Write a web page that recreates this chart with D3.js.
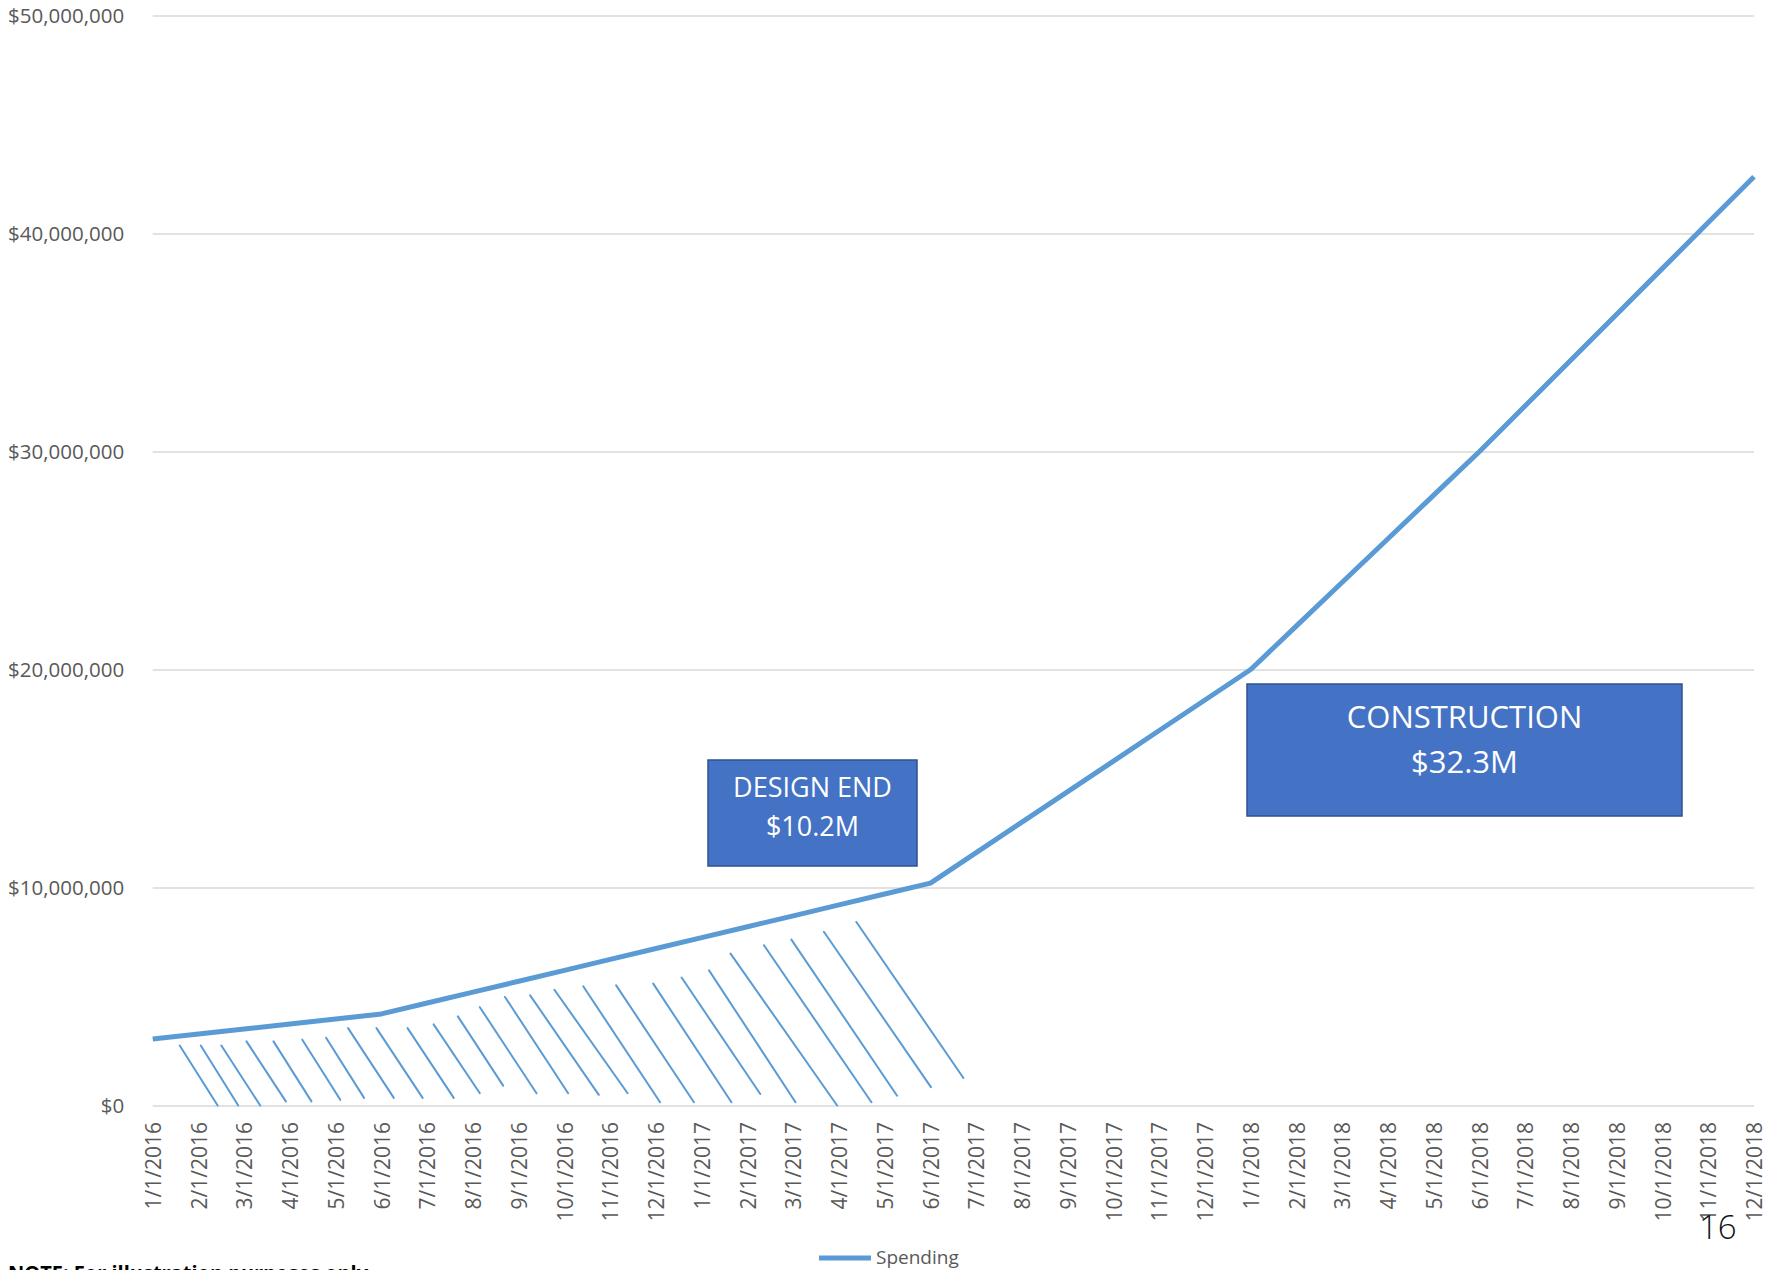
<!DOCTYPE html>
<html>
<head>
<meta charset="utf-8">
<script src="https://cdn.jsdelivr.net/npm/d3@7"></script>
<style>
  body { margin: 0; background: #fff; }
  svg { display: block; font-family: "Open Sans", "Noto Sans", sans-serif; }
</style>
</head>
<body>
<svg width="1771" height="1270"></svg>
<script>
// monthly cumulative spending ($ millions)
var months = [
  "1/1/2016", "2/1/2016", "3/1/2016", "4/1/2016", "5/1/2016", "6/1/2016",
  "7/1/2016", "8/1/2016", "9/1/2016", "10/1/2016", "11/1/2016", "12/1/2016",
  "1/1/2017", "2/1/2017", "3/1/2017", "4/1/2017", "5/1/2017", "6/1/2017",
  "7/1/2017", "8/1/2017", "9/1/2017", "10/1/2017", "11/1/2017", "12/1/2017",
  "1/1/2018", "2/1/2018", "3/1/2018", "4/1/2018", "5/1/2018", "6/1/2018",
  "7/1/2018", "8/1/2018", "9/1/2018", "10/1/2018", "11/1/2018", "12/1/2018"
];
var spending = [
  3.05, 3.28, 3.51, 3.74, 3.97, 4.2,
  4.7, 5.2, 5.7, 6.2, 6.7, 7.2,
  7.7, 8.2, 8.7, 9.2, 9.7, 10.2,
  11.6, 13.0, 14.4, 15.8, 17.2, 18.6,
  20.0, 22.0, 24.0, 26.0, 28.0, 30.0,
  32.1, 34.2, 36.3, 38.4, 40.5, 42.6
];
var yTicks = [0, 10, 20, 30, 40, 50];

// hand drawn hatch strokes under the design phase (month index, $M)
var hatchTopMonth = [0.59, 1.05, 1.50, 2.05, 2.64, 3.27, 3.79, 4.27, 4.89, 5.57, 6.14, 6.67, 7.15,
  7.70, 8.25, 8.78, 9.41, 10.13, 10.94, 11.56, 12.16, 12.63, 13.36, 13.96, 14.67, 15.38];
var hatchTopValue = [2.75, 2.75, 2.75, 2.94, 2.94, 3.02, 3.11, 3.55, 3.55, 3.55, 3.72, 4.09, 4.51,
  4.98, 5.05, 5.31, 5.47, 5.51, 5.59, 5.87, 6.20, 6.97, 7.35, 7.61, 7.97, 8.42];
var hatchEndMonth = [1.42, 1.87, 2.35, 2.91, 3.47, 4.10, 4.62, 5.27, 5.90, 6.58, 7.15, 7.66, 8.39,
  9.08, 9.75, 10.38, 11.09, 11.83, 12.65, 13.28, 14.05, 14.96, 15.71, 16.27, 17.01, 17.72];
var hatchEndValue = [0.0, 0.0, 0.0, 0.19, 0.19, 0.26, 0.35, 0.35, 0.35, 0.35, 0.56, 0.91, 0.56,
  0.56, 0.49, 0.56, 0.15, 0.15, 0.15, 0.53, 0.15, 0.0, 0.15, 0.45, 0.84, 1.26];

var boxTitles = ["DESIGN END", "CONSTRUCTION"];
var boxAmounts = ["$10.2M", "$32.3M"];
var seriesName = "Spending";
var noteText = "NOTE: For illustration purposes only";
var pageNumber = "16";

document.addEventListener("DOMContentLoaded", function () {

  var svg = d3.select("svg");
  var blue = "#5B9BD5";
  var grey = "#595959";
  var left = 152.7, right = 1754, top = 15.5, bottom = 1105.5;

  var xScale = d3.scaleLinear().domain([0, months.length - 1]).range([left, right]);
  var yScale = d3.scaleLinear().domain([0, 50]).range([bottom, top]);

  drawAxes();
  drawHatch();
  drawLine();
  drawBoxes();
  drawExtras();

  function drawAxes() {
    var yAxis = d3.axisLeft(yScale)
      .tickValues(yTicks)
      .tickSize(-(right - left))
      .tickPadding(28.5)
      .tickFormat(function (d) { return "$" + d3.format(",")(d * 1e6); });

    var yG = svg.append("g")
      .attr("transform", "translate(" + left + ",0)")
      .call(yAxis);
    yG.select("path.domain").remove();
    yG.selectAll(".tick line").style("stroke", "#D9D9D9").style("stroke-width", "1.5px");
    yG.selectAll(".tick text")
      .style("fill", grey)
      .style("font-size", "20.5px")
      .style("font-family", "Open Sans");

    var xAxis = d3.axisBottom(xScale)
      .tickValues(d3.range(months.length))
      .tickSize(0)
      .tickFormat(function (i) { return months[i]; });

    var xG = svg.append("g")
      .attr("transform", "translate(0," + bottom + ")")
      .call(xAxis);
    xG.select("path.domain").remove();
    xG.selectAll(".tick text")
      .attr("transform", "rotate(-90)")
      .attr("text-anchor", "end")
      .attr("x", -16.5)
      .attr("y", 0)
      .attr("dy", "0.36em")
      .style("fill", grey)
      .style("font-size", "21px")
      .style("font-family", "Open Sans");
  }

  function drawHatch() {
    svg.append("g")
      .selectAll("line")
      .data(hatchTopMonth).enter()
      .append("line")
      .attr("x1", function (d) { return xScale(d); })
      .attr("y1", function (d, i) { return yScale(hatchTopValue[i]); })
      .attr("x2", function (d, i) { return xScale(hatchEndMonth[i]); })
      .attr("y2", function (d, i) { return yScale(hatchEndValue[i]); })
      .style("stroke", blue)
      .style("stroke-width", "2px")
      .style("stroke-linecap", "round");
  }

  function drawLine() {
    var line = d3.line()
      .x(function (d, i) { return xScale(i); })
      .y(function (d) { return yScale(d); });

    svg.append("path")
      .datum(spending)
      .attr("d", line)
      .style("fill", "none")
      .style("stroke", blue)
      .style("stroke-width", "5px")
      .style("stroke-linejoin", "round");
  }

  function drawBoxes() {
    // annotation boxes, pixel layout
    var boxes = [
      { x: 708, y: 760, w: 209, h: 106, size: 27, l1: 797, l2: 836 },
      { x: 1247, y: 684, w: 435, h: 132, size: 31, l1: 728, l2: 773 }
    ];

    var g = svg.selectAll("g.box")
      .data(boxes).enter()
      .append("g")
      .attr("class", "box");

    g.append("rect")
      .attr("x", function (d) { return d.x; })
      .attr("y", function (d) { return d.y; })
      .attr("width", function (d) { return d.w; })
      .attr("height", function (d) { return d.h; })
      .style("fill", "#4472C4")
      .style("stroke", "#2F528F")
      .style("stroke-width", "1.5px");

    g.append("text")
      .attr("x", function (d) { return d.x + d.w / 2; })
      .attr("y", function (d) { return d.l1; })
      .attr("text-anchor", "middle")
      .style("fill", "#fff")
      .style("font-size", function (d) { return d.size + "px"; })
      .text(function (d, i) { return boxTitles[i]; });

    g.append("text")
      .attr("x", function (d) { return d.x + d.w / 2; })
      .attr("y", function (d) { return d.l2; })
      .attr("text-anchor", "middle")
      .style("fill", "#fff")
      .style("font-size", function (d) { return d.size + "px"; })
      .text(function (d, i) { return boxAmounts[i]; });
  }

  function drawExtras() {
    // legend
    svg.append("line")
      .attr("x1", 819).attr("x2", 871)
      .attr("y1", 1258).attr("y2", 1258)
      .style("stroke", blue)
      .style("stroke-width", "5px");
    svg.append("text")
      .attr("x", 876).attr("y", 1264)
      .style("fill", grey)
      .style("font-size", "19px")
      .text(seriesName);

    // slide footer, cut off at the bottom edge as in the source
    svg.append("text")
      .attr("x", 8).attr("y", 1280)
      .style("fill", "#000")
      .style("font-weight", "bold")
      .style("font-size", "20px")
      .text(noteText);

    svg.append("text")
      .attr("x", 1699).attr("y", 1239)
      .style("fill", "#111")
      .style("font-weight", "300")
      .style("font-size", "33px")
      .text(pageNumber);
  }

});
</script>
</body>
</html>
